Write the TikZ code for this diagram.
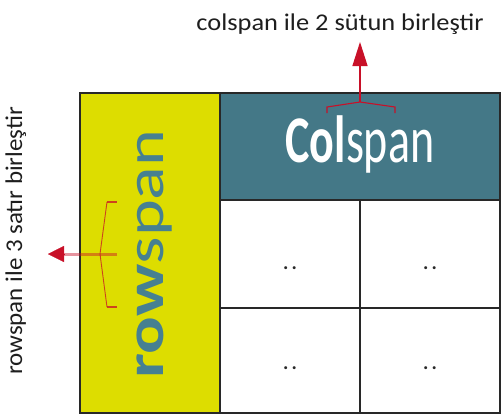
\documentclass[tikz,border=0pt]{standalone}
\usepackage{fontspec}
\setmainfont{Carlito}
\usetikzlibrary{arrows.meta}
\definecolor{spanyellow}{RGB}{221,221,0}
\definecolor{spanteal}{RGB}{68,120,135}
\definecolor{rowteal}{RGB}{70,128,145}
\definecolor{gridline}{RGB}{40,40,40}
\definecolor{arrowred}{RGB}{200,16,40}
\definecolor{labelgray}{RGB}{30,30,30}
\begin{document}
\begin{tikzpicture}[x=1pt,y=-1pt,
  cellborder/.style={draw=gridline,line width=1.6pt},
  cellmark/.style={font=\bfseries\fontsize{20}{20}\selectfont,text=gridline,inner sep=0pt},
  caption/.style={font=\fontsize{24}{24}\selectfont,text=labelgray,inner sep=0pt},
  pointer/.style={draw=arrowred,line width=1.4pt,-{Triangle[length=24pt,width=15pt]}},
  bracket/.style={draw=arrowred,line width=1.1pt}]
\useasboundingbox (0,0) rectangle (502,418);

% left merged column and header cell
\fill[spanyellow] (80,93) rectangle (220,413);
\fill[spanteal] (220,93) rectangle (500,200);
\fill[white] (220,200) rectangle (500,413);

% grid lines
\draw[cellborder] (80,93) rectangle (500,413);
\draw[cellborder] (220,93) -- (220,413);
\draw[cellborder] (220,200) -- (500,200);
\draw[cellborder] (220,308) -- (500,308);
\draw[cellborder] (360,200) -- (360,413);

% cell texts
\node[anchor=base,text=white,inner sep=0pt] (colspan) at (360,162)
  {\scalebox{1}[1.45]{\fontsize{46}{46}\selectfont\textbf{Col}span}};
\node[anchor=base,rotate=90,text=rowteal,inner sep=0pt] (rowspan) at (163,254)
  {\scalebox{1.3}[1]{\fontsize{54}{54}\selectfont\textbf{row}span}};
\node[cellmark] (c11) at (290,268) {.\hspace{3pt}.};
\node[cellmark] (c12) at (430,268) {.\hspace{3pt}.};
\node[cellmark] (c21) at (290,368) {.\hspace{3pt}.};
\node[cellmark] (c22) at (430,368) {.\hspace{3pt}.};

% top pointer: colspan
\coordinate (ctip) at (360,102);
\coordinate (chead) at (360,42);
\draw[bracket] (327,113) -- (327,107) -- (ctip) -- (395,107) -- (395,113);
\draw[pointer] (ctip) -- (chead);
\node[caption,anchor=base] (ctext) at (340,30)
  {\scalebox{1.1}[1]{colspan ile 2 sütun birleştir}};

% left pointer: rowspan
\coordinate (rtip) at (100,254);
\coordinate (rend) at (117,254);
\coordinate (rbase) at (64,254);
\coordinate (rhead) at (48,254);
\draw[bracket,opacity=0.75] (107,202) -- (117,202);
\draw[bracket,opacity=0.75] (107,307) -- (117,307);
\draw[bracket,line width=0.9pt,opacity=0.75] (107,202) -- (rtip) -- (107,307);
\draw[draw=arrowred,line width=3pt,opacity=0.45] (rend) -- (rbase);
\draw[draw=arrowred,line width=0.2pt,-{Triangle[length=16pt,width=16pt]}] (rbase) -- (rhead);
\node[caption,anchor=base,rotate=90] (rtext) at (22,241)
  {\scalebox{1.04}[1]{rowspan ile 3 satır birleştir}};
\end{tikzpicture}
\end{document}
